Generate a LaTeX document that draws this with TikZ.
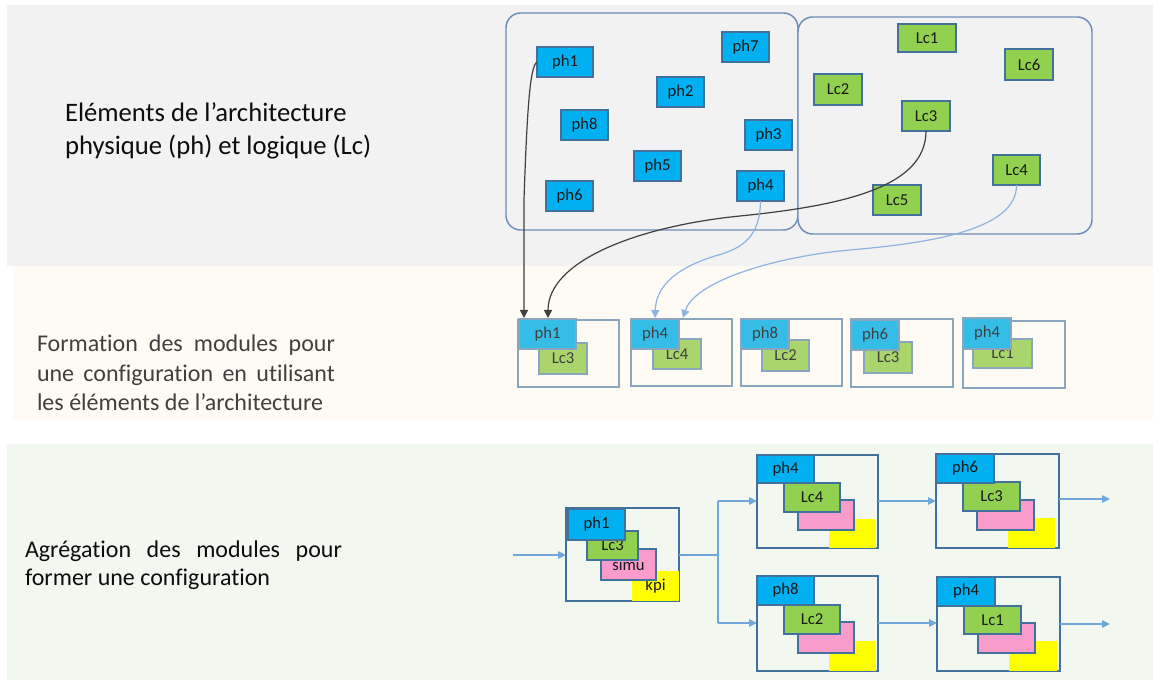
\documentclass[tikz,border=0pt]{standalone}
\usepackage{fontspec}
\setmainfont{Carlito}[Ligatures={NoCommon}]
\usetikzlibrary{calc,arrows.meta}
\definecolor{bandA}{HTML}{F2F2F2}
\definecolor{bandB}{HTML}{FEFBF4}
\definecolor{bandC}{HTML}{F2F7F0}
\definecolor{zoneline}{HTML}{6D8EB7}
\definecolor{edgeline}{HTML}{41719C}
\definecolor{phblue}{HTML}{00B0F0}
\definecolor{lcgreen}{HTML}{92D050}
\definecolor{phfade}{HTML}{35BDE8}
\definecolor{lcfade}{HTML}{AAD46C}
\definecolor{fadeline}{HTML}{8AA6BF}
\definecolor{simupink}{HTML}{F99BCB}
\definecolor{kpiyellow}{HTML}{FFFF00}
\definecolor{flowblue}{HTML}{6FA6DB}
\definecolor{linkblue}{HTML}{8DB3E2}
\definecolor{linkdark}{HTML}{3F3F3F}
\definecolor{txtgray}{HTML}{404040}
\newcommand\bx[7]{\node[#2, minimum width={(#5-#3)*0.75pt}, minimum height={(#6-#4)*0.75pt}] (#1) at ({(#3+#5)/2},{(#4+#6)/2}) {#7};}
\tikzset{
  box/.style={rectangle, inner sep=0pt, outer sep=0pt, font=\fontsize{12.5}{14}\selectfont, text=black!90},
  ph/.style={box, fill=phblue, draw=edgeline, line width=0.8pt},
  lc/.style={box, fill=lcgreen, draw=edgeline, line width=0.8pt},
  phf/.style={box, fill=phfade, draw=fadeline, line width=0.8pt, text=txtgray},
  lcf/.style={box, fill=lcfade, draw=fadeline, line width=0.8pt, text=txtgray},
  si/.style={box, fill=simupink, draw=edgeline, line width=0.8pt},
  kp/.style={box, fill=kpiyellow},
  modA/.style={box, draw=fadeline, line width=0.8pt},
  modB/.style={box, draw=edgeline, line width=0.8pt},
  zone/.style={box, draw=zoneline, line width=1.1pt, rounded corners=11pt, fill=bandA},
  flow/.style={draw=flowblue, line width=1.1pt, -{Triangle[length=6pt,width=5.5pt]}},
  flowline/.style={draw=flowblue, line width=1.1pt},
  linkd/.style={draw=linkdark, line width=0.9pt, -{Triangle[length=6pt,width=6pt]}},
  linkb/.style={draw=linkblue, line width=0.9pt, -{Triangle[length=6pt,width=6pt]}},
  lab/.style={anchor=base west, inner sep=0pt, outer sep=0pt}
}
\begin{document}
\begin{tikzpicture}[x=0.75pt, y=-0.75pt]
\useasboundingbox (0,0) rectangle (1153,680);
% bands
\fill[bandA] (7,5) rectangle (1153,266);
\fill[bandB] (13,266) rectangle (1153,420);
\fill[bandC] (7,444) rectangle (1153,680);
% labels
\node[lab, text=black!95] (lab1) at (65,122) {\parbox[t]{260pt}{\fontsize{20}{24.4}\selectfont Eléments de l’architecture\\ physique (ph) et logique (Lc)}};
\node[lab, text=txtgray] (lab2) at (37,352) {\parbox[t]{223.5pt}{\fontsize{18}{22}\selectfont\makebox[\linewidth][s]{Formation des modules pour}\\ \makebox[\linewidth][s]{une configuration en utilisant}\\ les éléments de l’architecture}};
\node[lab, text=black!95] (lab3) at (25,557) {\parbox[t]{237.75pt}{\fontsize{18}{21}\selectfont\makebox[\linewidth][s]{Agrégation des modules pour}\\ former une configuration}};
% zones
\bx{phzone}{zone}{506}{13}{798}{230}{}
\bx{lczone}{zone}{798}{17}{1092}{234}{}
% physical elements
\bx{ph1}{ph}{537}{47}{593}{77}{ph1}
\bx{ph7}{ph}{722}{32}{769}{62}{ph7}
\bx{ph2}{ph}{657}{77}{704}{107}{ph2}
\bx{ph8}{ph}{561}{110}{608}{140}{ph8}
\bx{ph3}{ph}{745}{120}{792}{150}{ph3}
\bx{ph5}{ph}{634}{151}{681}{181}{ph5}
\bx{ph4}{ph}{737}{171}{784}{201}{ph4}
\bx{ph6}{ph}{546}{181}{593}{211}{ph6}
% logical elements
\bx{lc1}{lc}{898}{24}{956}{52}{Lc1}
\bx{lc6}{lc}{1005}{49}{1053}{80}{Lc6}
\bx{lc2}{lc}{814}{74}{862}{105}{Lc2}
\bx{lc3}{lc}{902}{101}{950}{131}{Lc3}
\bx{lc4}{lc}{993}{155}{1040}{185}{Lc4}
\bx{lc5}{lc}{873}{185}{921}{215}{Lc5}
% modules (middle band)
\bx{m1}{modA}{518}{320}{619}{387}{}
\bx{m1lc}{lcf}{539}{343}{587}{374}{Lc3}
\bx{m1ph}{phf}{519}{319}{576}{349}{ph1}
\bx{m2}{modA}{631}{319}{732}{386}{}
\bx{m2lc}{lcf}{653}{339}{701}{369}{Lc4}
\bx{m2ph}{phf}{631}{319}{679}{349}{ph4}
\bx{m3}{modA}{741}{319}{842}{386}{}
\bx{m3lc}{lcf}{762}{340}{809}{371}{Lc2}
\bx{m3ph}{phf}{741}{319}{789}{349}{ph8}
\bx{m4}{modA}{851}{319}{953}{387}{}
\bx{m4lc}{lcf}{864}{342}{912}{373}{Lc3}
\bx{m4ph}{phf}{851}{320}{899}{350}{ph6}
\bx{m5}{modA}{963}{321}{1065}{388}{}
\bx{m5lc}{lcf}{973}{339}{1032}{368}{Lc1}
\bx{m5ph}{phf}{963}{318}{1011}{349}{ph4}
% links top -> middle
\draw[linkd] (ph1.west) .. controls (530,66) and (527,110) .. (524,200) -- ($(m1ph.north west)+(5,-1)$);
\draw[linkd] (lc3.south) .. controls (926,185) and (850,205) .. (740,216) .. controls (640,226) and (548,260) .. ($(m1ph.north west)+(29,-1)$);
\draw[linkb] (ph4.south) .. controls (760,235) and (745,248) .. (715,256) .. controls (670,270) and (656,290) .. ($(m2ph.north west)+(24,-1)$);
\draw[linkb] (lc4.south) .. controls (1017,230) and (930,243) .. (850,250) .. controls (780,256) and (695,280) .. ($(m2ph.north west)+(52,-1)$);
% configuration (bottom band)
\bx{b1}{modB}{566}{508}{679}{601}{}
\bx{b1kp}{kp}{632}{571}{679}{601}{kpi}
\bx{b1si}{si}{601}{549}{656}{580}{simu}
\bx{b1lc}{lc}{587}{531}{638}{560}{Lc3}
\bx{b1ph}{ph}{568}{509}{625}{540}{ph1}
\bx{b2}{modB}{757}{455}{878}{548}{}
\bx{b2kp}{kp}{829}{519}{876}{548}{}
\bx{b2si}{si}{798}{500}{854}{530}{}
\bx{b2lc}{lc}{784}{483}{840}{512}{Lc4}
\bx{b2ph}{ph}{757}{455}{814}{483}{ph4}
\bx{b3}{modB}{936}{454}{1059}{548}{}
\bx{b3kp}{kp}{1008}{518}{1055}{548}{}
\bx{b3si}{si}{977}{500}{1034}{530}{}
\bx{b3lc}{lc}{963}{482}{1020}{511}{Lc3}
\bx{b3ph}{ph}{936}{454}{994}{483}{ph6}
\bx{b4}{modB}{757}{576}{878}{671}{}
\bx{b4kp}{kp}{829}{641}{876}{671}{}
\bx{b4si}{si}{798}{622}{854}{653}{}
\bx{b4lc}{lc}{784}{605}{840}{634}{Lc2}
\bx{b4ph}{ph}{757}{576}{814}{605}{ph8}
\bx{b5}{modB}{937}{577}{1060}{671}{}
\bx{b5kp}{kp}{1009}{641}{1057}{671}{}
\bx{b5si}{si}{978}{623}{1035}{653}{}
\bx{b5lc}{lc}{964}{606}{1021}{634}{Lc1}
\bx{b5ph}{ph}{937}{577}{995}{606}{ph4}
% flow connectors
\coordinate (in) at (513,555);
\coordinate (jt) at (718,501);
\coordinate (jb) at (718,623);
\coordinate (out1) at (1110,499);
\coordinate (out2) at (1110,624);
\draw[flow] (in) -- (in -| b1.west);
\draw[flowline] (b1.east |- in) -- (in -| jt);
\draw[flowline] (jt) -- (jb);
\draw[flow] (jt) -- (jt -| b2.west);
\draw[flow] (jb) -- (jb -| b4.west);
\draw[flow] (b2.east |- jt) -- (jt -| b3.west);
\draw[flow] (b4.east |- jb) -- (jb -| b5.west);
\draw[flow] (b3.east |- out1) -- (out1);
\draw[flow] (b5.east |- out2) -- (out2);
\end{tikzpicture}
\end{document}
